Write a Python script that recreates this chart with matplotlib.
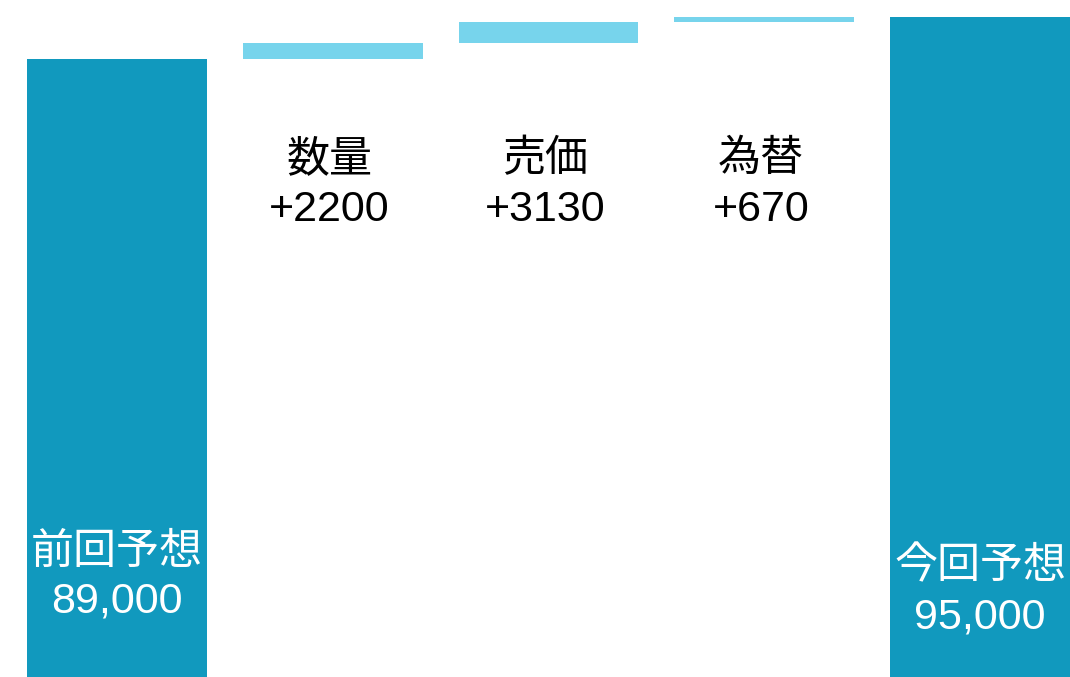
import matplotlib
matplotlib.use("Agg")
import matplotlib.pyplot as plt
import numpy as np

plt.rcParams["font.family"] = ["Liberation Sans", "Noto Sans CJK JP", "DejaVu Sans"]

labels = ["前回予想", "数量", "売価", "為替", "今回予想"]
start_total = 89000
deltas = [2200, 3130, 670]
end_total = 95000

dark = "#1199BE"
light = "#77D4EC"

fig = plt.figure(figsize=(10.7, 6.77), dpi=100)
ax = fig.add_axes([0, 0, 1, 1])

x = np.arange(len(labels))
width = 0.834

# totals
ax.bar(x[0], start_total, width=width, color=dark)
ax.bar(x[-1], end_total, width=width, color=dark)

# floating deltas
bottoms = start_total + np.concatenate([[0], np.cumsum(deltas)[:-1]])
ax.bar(x[1:4], deltas, bottom=bottoms, width=width, color=light)

ax.set_xlim(-0.542, 4.417)
ax.set_ylim(0, 97430)
ax.axis("off")

fs = 31
tr = ax.get_xaxis_transform()
cjk = dict(fontsize=fs, ha="center", va="center", transform=tr)
num = dict(fontsize=fs, ha="center", va="center", transform=tr)
for i, (name, d) in enumerate(zip(labels[1:4], deltas), start=1):
    ax.text(x[i] - 0.015, 1 - 160 / 677, name, color="black", **cjk)
    ax.text(x[i] - 0.015, 1 - 210 / 677, f"+{d}", color="black", **num)

ax.text(x[0], 1 - 553 / 677, labels[0], color="white", **cjk)
ax.text(x[0], 1 - 602 / 677, f"{start_total:,}", color="white", **num)
ax.text(x[-1], 1 - 567 / 677, labels[-1], color="white", **cjk)
ax.text(x[-1], 1 - 618 / 677, f"{end_total:,}", color="white", **num)

fig.savefig("out.png", dpi=100)
